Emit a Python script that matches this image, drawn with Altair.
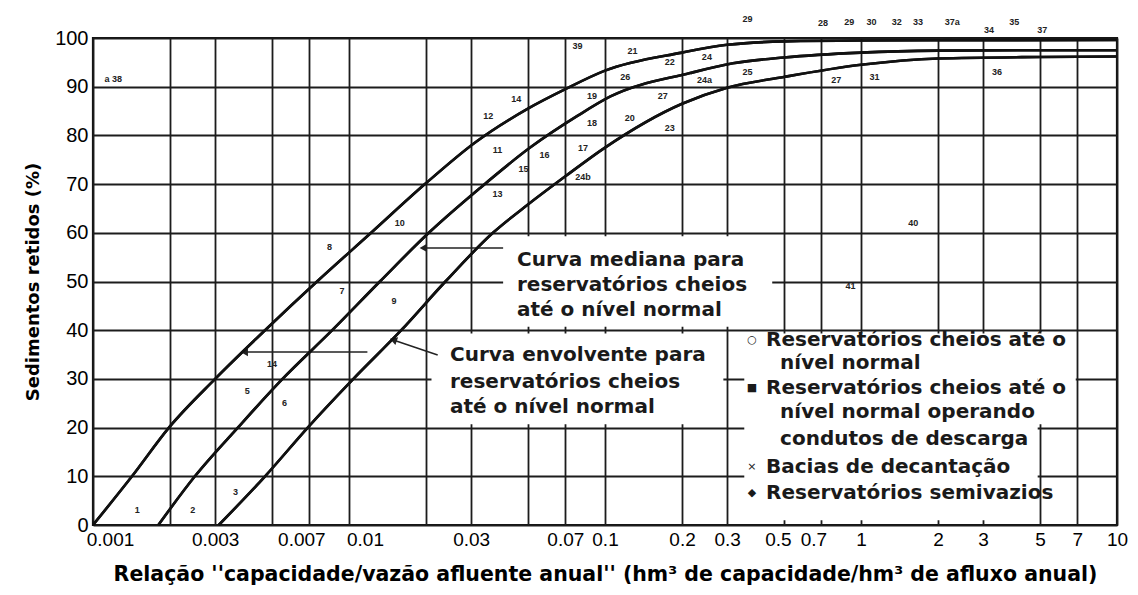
import altair as alt
import pandas as pd

# ---------------- data ----------------
upper_x = [0.001, 0.00142, 0.00198, 0.003, 0.0047, 0.0075, 0.0122, 0.0198, 0.031, 0.05, 0.07, 0.1, 0.2, 0.3, 0.5, 1, 10]
upper_y = [0, 10, 20, 30, 40, 50, 60, 70, 78.5, 85.5, 89.5, 93.3, 97, 98.6, 99.3, 99.5, 99.6]

median_x = [0.0018, 0.0025, 0.00368, 0.0055, 0.0086, 0.0132, 0.0205, 0.0325, 0.051, 0.078, 0.105, 0.215, 0.316, 0.5, 1, 2, 5, 10]
median_y = [0, 10, 20, 30, 40, 50, 60, 69.2, 77.5, 84, 88, 92.8, 94.8, 96, 97, 97.4, 97.5, 97.5]

lower_x = [0.0031, 0.0047, 0.0069, 0.0104, 0.016, 0.0238, 0.0365, 0.05, 0.07, 0.1, 0.2, 0.3, 0.5, 1, 2, 5, 10]
lower_y = [0, 10, 20, 30, 40, 50, 60, 65.8, 71.6, 77.5, 86.5, 89.8, 92, 94.5, 95.8, 96.1, 96.2]

grid_x = [0.001, 0.002, 0.003, 0.005, 0.007, 0.01, 0.02, 0.03, 0.05, 0.07, 0.1, 0.2, 0.3, 0.5, 0.7, 1, 2, 3, 5, 7, 10]
unlabeled_x = [0.002, 0.005, 0.02, 0.05]
shifted_x = [0.001, 0.007, 0.01, 0.5, 0.7]
shift_px = [17, -8, 16, -6, -8]
tick_y = [0, 10, 20, 30, 40, 50, 60, 70, 80, 90, 100]

point_labels = ["a 38", "1", "2", "3", "5", "14", "6", "8", "7", "9", "10", "12", "14", "11", "13",
                "15", "16", "17", "18", "19", "24b", "39", "20", "21", "26", "22", "27", "23", "24a",
                "24", "25", "29", "28", "29", "30", "32", "33", "37a", "34", "35", "37", "27", "31",
                "36", "40", "41"]
point_x = [0.0012, 0.00149, 0.00245, 0.0036, 0.004, 0.005, 0.0056, 0.0084, 0.0094, 0.015, 0.0158, 0.035,
           0.045, 0.038, 0.038, 0.048, 0.058, 0.082, 0.089, 0.089, 0.082, 0.078, 0.125, 0.128, 0.12,
           0.179, 0.168, 0.179, 0.245, 0.25, 0.36, 0.36, 0.71, 0.9, 1.1, 1.38, 1.67, 2.27, 3.16, 3.97,
           5.1, 0.8, 1.13, 3.4, 1.6, 0.91]
point_y = [91.5, 3, 3, 6.8, 27.5, 33, 25, 57, 48, 46, 62, 84, 87.5, 77, 68, 73, 76, 77.5, 82.5, 88,
           71.5, 98.3, 83.5, 97.3, 92, 95, 88, 81.5, 91.3, 96, 93, 104, 103, 103.3, 103.3, 103.3,
           103.3, 103.3, 101.7, 103.3, 101.7, 91.3, 92, 93, 62, 49]

mediana_lines = ["Curva mediana para", "reservatórios cheios", "até o nível normal"]
mediana_y = [54.4, 49.3, 44.1]
envolvente_lines = ["Curva envolvente para", "reservatórios cheios", "até o nível normal"]
envolvente_y = [34.9, 29.4, 24.2]

legend_lines = ["Reservatórios cheios até o", "nível normal", "Reservatórios cheios até o",
                "nível normal  operando", "condutos de descarga", "Bacias de decantação",
                "Reservatórios semivazios"]
legend_x = [0.4256, 0.483, 0.4256, 0.483, 0.483, 0.4256, 0.4256]
legend_yv = [38, 33.3, 28.1, 23.2, 17.6, 11.9, 6.6]
legend_sym = ["○", "■", "×", "◆"]
legend_sym_y = [38, 28.1, 11.9, 6.6]

# white boxes behind the annotations (data coords)
box_x = [0.04, 0.021, 0.35, 4.9]
box_x2 = [0.45, 0.29, 4.9, 6.9]
box_y = [40.7, 20.7, 1.0, 20.7]
box_y2 = [59.3, 39.3, 39.3, 39.3]

# arrows (data coords): start -> tip
arr_x1 = [0.04, 0.0118, 0.0222]
arr_y1 = [56.9, 35.5, 34.9]
arr_x2 = [0.0195, 0.0039, 0.0149]
arr_y2 = [56.9, 35.5, 38.0]
arr_angle = [0, 0, 19]

# ---------------- chart ----------------
xs = alt.Scale(type="log", domain=[0.001, 10], nice=False)
ys = alt.Scale(domain=[0, 100], nice=False)

curves = pd.concat([
    pd.DataFrame({"x": upper_x, "y": upper_y, "c": "upper"}),
    pd.DataFrame({"x": median_x, "y": median_y, "c": "median"}),
    pd.DataFrame({"x": lower_x, "y": lower_y, "c": "lower"}),
])

hide_expr = "indexof(" + str(unlabeled_x) + ", datum.value) >= 0 ? '' : '' + datum.value"
offset_cond = {
    "condition": [{"test": "datum.value == " + str(v), "value": s} for v, s in zip(shifted_x, shift_px)],
    "value": 0,
}
XT = "Relação ''capacidade/vazão afluente anual'' (hm³ de capacidade/hm³ de afluxo anual)"
YT = "Sedimentos retidos (%)"

x_axis = alt.Axis(values=grid_x, labelExpr=hide_expr, title=XT, labelOffset=offset_cond)
y_axis = alt.Axis(values=tick_y, title=YT)


def X(f="x"):
    return alt.X(f + ":Q", scale=xs, title=XT)


def Y(f="y"):
    return alt.Y(f + ":Q", scale=ys, title=YT)


lines = alt.Chart(curves).mark_line(color="#111111", strokeWidth=2.6, interpolate="monotone").encode(
    x=alt.X("x:Q", scale=xs, axis=x_axis),
    y=alt.Y("y:Q", scale=ys, axis=y_axis),
    detail="c:N")

boxes = alt.Chart(pd.DataFrame({"x": box_x, "x2": box_x2, "y": box_y, "y2": box_y2})).mark_rect(
    color="white").encode(x=X(), x2="x2:Q", y=Y(), y2="y2:Q")

arrows_df = pd.DataFrame({"x": arr_x1, "y": arr_y1, "xe": arr_x2, "ye": arr_y2, "a": arr_angle})
arrow_lines = alt.Chart(arrows_df).mark_rule(color="#222222", strokeWidth=1.5).encode(
    x=X(), x2="xe:Q", y=Y(), y2="ye:Q")
arrow_heads = alt.Chart(arrows_df).mark_point(shape="triangle-left", filled=True, size=70,
                                              color="#222222", opacity=1).encode(
    x=X("xe"), y=Y("ye"), angle=alt.Angle("a:Q", scale=None))

pts = alt.Chart(pd.DataFrame({"t": point_labels, "x": point_x, "y": point_y})).mark_text(
    fontSize=9, font="Liberation Sans", fontWeight="bold", color="#222222").encode(
    x=X(), y=Y(), text="t:N")

ann_font = dict(font="DejaVu Sans", fontWeight="bold", fontSize=20, color="#1a1a1a",
                align="left", baseline="middle")
med = alt.Chart(pd.DataFrame({"t": mediana_lines, "y": mediana_y, "x": [0.0453] * 3})).mark_text(
    **ann_font).encode(x=X(), y=Y(), text="t:N")
env = alt.Chart(pd.DataFrame({"t": envolvente_lines, "y": envolvente_y, "x": [0.0248] * 3})).mark_text(
    **ann_font).encode(x=X(), y=Y(), text="t:N")
leg = alt.Chart(pd.DataFrame({"t": legend_lines, "y": legend_yv, "x": legend_x})).mark_text(
    **ann_font).encode(x=X(), y=Y(), text="t:N")
sym = alt.Chart(pd.DataFrame({"t": legend_sym, "y": legend_sym_y, "x": [0.375] * 4})).mark_text(
    font="DejaVu Sans", fontSize=11, color="#1a1a1a", baseline="middle").encode(
    x=X(), y=Y(), text="t:N")

curves_top = alt.Chart(curves).mark_line(color="#111111", strokeWidth=2.6, interpolate="monotone").encode(
    x=X(), y=Y(), detail="c:N")

chart = alt.layer(lines, boxes, arrow_lines, arrow_heads, pts, med, env, leg, sym, curves_top).properties(
    width=1024, height=487,
    autosize=alt.AutoSizeParams(type="none"),
    padding={"left": 85, "top": 30, "right": 13, "bottom": 62},
    background="white",
).configure_view(
    stroke="#111111", strokeWidth=2.2
).configure_axis(
    grid=True, gridColor="#1c1c1c", gridWidth=1.8, gridOpacity=1,
    ticks=False, domain=False, labelColor="black", labelFont="Liberation Sans",
    labelPadding=5, labelFlush=False, labelOverlap=False,
    titleFont="DejaVu Sans", titleFontWeight="bold", titleColor="black"
).configure_axisX(
    labelFontSize=19, titleFontSize=20.5, titlePadding=15
).configure_axisY(
    labelFontSize=20, titleFontSize=18, titlePadding=12
)

chart.save("out.html", embed_options={"renderer": "svg", "actions": False})
